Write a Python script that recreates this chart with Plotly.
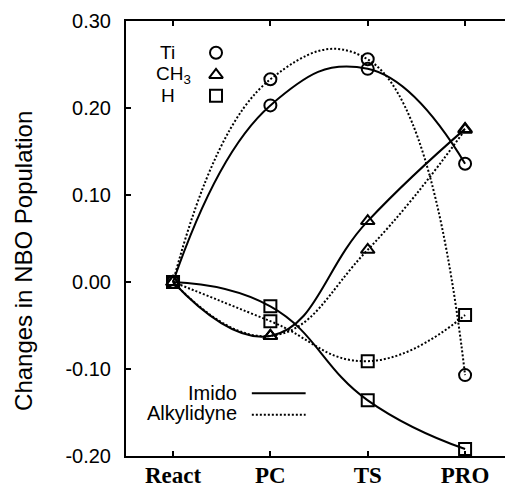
import plotly.graph_objects as go

stages = ["React", "PC", "TS", "PRO"]
xpos = [0, 1, 2, 3]

imido_ti = [0.0, 0.203, 0.245, 0.136]
imido_ch3 = [0.0, -0.062, 0.070, 0.176]
imido_h = [0.0, -0.028, -0.136, -0.192]

alky_ti = [0.0, 0.233, 0.256, -0.107]
alky_ch3 = [0.0, -0.062, 0.037, 0.175]
alky_h = [0.0, -0.045, -0.091, -0.038]

yticks = [-0.20, -0.10, 0.00, 0.10, 0.20, 0.30]
ytick_labels = ["-0.20", "-0.10", "0.00", "0.10", "0.20", "0.30"]

SANS = "Liberation Sans, Arial, sans-serif"
SERIF = "Liberation Serif, Times New Roman, serif"
DOT = "2px,2px"

fig = go.Figure()

series = [
    (imido_ti, "circle-open", "solid"),
    (imido_ch3, "triangle-up-open", "solid"),
    (imido_h, "square-open", "solid"),
    (alky_ti, "circle-open", DOT),
    (alky_ch3, "triangle-up-open", DOT),
    (alky_h, "square-open", DOT),
]
for vals, sym, dash in series:
    fig.add_trace(go.Scatter(
        x=xpos, y=vals, mode="lines+markers",
        line=dict(color="black", width=2, dash=dash, shape="spline", smoothing=1.3),
        marker=dict(symbol=sym, size=12, color="black", line=dict(width=2, color="black")),
        showlegend=False, cliponaxis=False,
    ))

# symbol key (overlay axes in plot-area fractions)
key_syms = ["circle-open", "triangle-up-open", "square-open"]
key_y = [0.927, 0.876, 0.828]
fig.add_trace(go.Scatter(
    x=[0.2375] * 3, y=key_y, mode="markers", xaxis="x2", yaxis="y2",
    marker=dict(symbol=key_syms, size=12, color="black", line=dict(width=2, color="black")),
    showlegend=False, hoverinfo="skip",
))

key_labels = ["Ti", "CH<sub>3</sub>", "H"]
key_xr = [0.1346, 0.1768, 0.1346]
for lab, xr, yy in zip(key_labels, key_xr, key_y):
    fig.add_annotation(x=xr, y=yy, xref="paper", yref="paper", text=lab,
                       showarrow=False, xanchor="right", yanchor="middle",
                       font=dict(family=SANS, size=19, color="black"))

# line-style key
fig.add_annotation(x=0.298, y=0.144, xref="paper", yref="paper", text="Imido",
                   showarrow=False, xanchor="right", yanchor="middle",
                   font=dict(family=SANS, size=20, color="black"))
fig.add_annotation(x=0.298, y=0.100, xref="paper", yref="paper", text="Alkylidyne",
                   showarrow=False, xanchor="right", yanchor="middle",
                   font=dict(family=SANS, size=20, color="black"))
fig.add_shape(type="line", xref="paper", yref="paper", x0=0.332, x1=0.474, y0=0.144, y1=0.144,
              line=dict(color="black", width=2))
fig.add_shape(type="line", xref="paper", yref="paper", x0=0.332, x1=0.474, y0=0.095, y1=0.095,
              line=dict(color="black", width=2, dash=DOT))

# y-axis title
fig.add_annotation(x=-0.269, y=0.4485, xref="paper", yref="paper",
                   text="Changes in NBO Population", textangle=-90, showarrow=False,
                   xanchor="center", yanchor="middle",
                   font=dict(family=SANS, size=24, color="black"))

fig.update_layout(
    width=505, height=488,
    margin=dict(l=126, r=0, t=21, b=30),
    paper_bgcolor="white", plot_bgcolor="white",
    xaxis=dict(
        range=[-0.483, 3.41], tickmode="array", tickvals=xpos, ticktext=stages,
        showgrid=False, zeroline=False, showline=True, linecolor="black", linewidth=2,
        mirror="ticks", ticks="inside", ticklen=5, tickwidth=2, tickcolor="black",
        tickfont=dict(family=SERIF, size=23, color="black", weight="bold"),
        ticklabelstandoff=-3,
    ),
    yaxis=dict(
        range=[-0.20, 0.30], tickmode="array", tickvals=yticks, ticktext=ytick_labels,
        showgrid=False, zeroline=False, showline=True, linecolor="black", linewidth=2,
        ticks="inside", ticklen=5, tickwidth=2, tickcolor="black",
        tickfont=dict(family=SANS, size=20, color="black"),
        ticklabelstandoff=9,
    ),
    xaxis2=dict(range=[0, 1], overlaying="x", visible=False, fixedrange=True),
    yaxis2=dict(range=[0, 1], overlaying="y", visible=False, fixedrange=True),
)

fig.write_html("out.html", config={"displayModeBar": False},
               post_script="document.body.style.margin='0';document.body.style.overflow='hidden';")
